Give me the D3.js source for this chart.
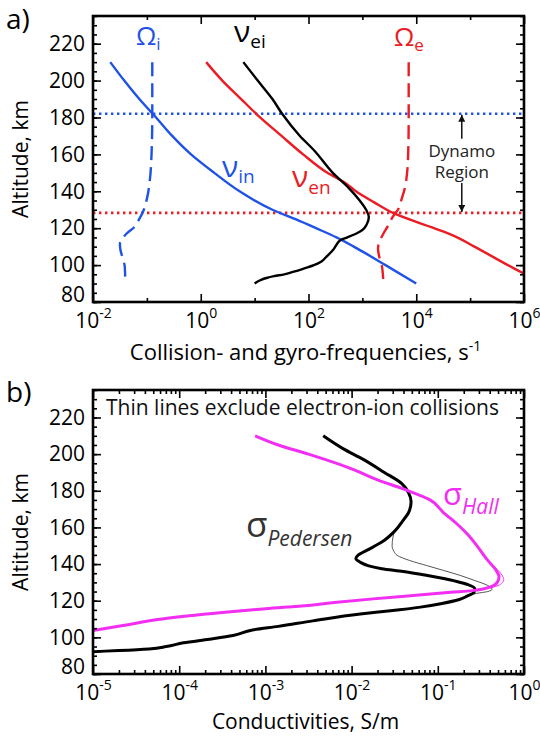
<!DOCTYPE html>
<html>
<head>
<meta charset="utf-8">
<script src="https://cdn.jsdelivr.net/npm/d3@7"></script>
<style>
body { margin: 0; background: #fff; }
text { font-family: 'Open Sans', sans-serif; }
</style>
</head>
<body>
<div id="chart"></div>
<script>
// PANEL A DATA (altitude km, frequency s^-1)
var altVin = [210, 200, 190, 180, 170, 160, 150, 140, 130, 125, 120, 115, 110, 100, 90];
var vin = [0.0209, 0.038, 0.0724, 0.148, 0.295, 0.66, 1.78, 5.25, 21.4, 56, 138, 331, 692, 2690, 10000];

var altVen = [210, 200, 190, 182, 170, 160, 150, 144, 140, 134, 128, 120, 116, 110, 100, 95, 90];
var ven = [1.26, 2.51, 5.62, 10.7, 31.6, 79.4, 224, 513, 759, 1660, 3890, 21400, 49000, 120000, 501000, 1050000, 2140000];

var altVei = [210, 200, 190, 182, 170, 162, 150, 142, 135, 130, 126, 122, 119, 117, 115, 113.5, 111, 108, 104.5, 102, 100, 98, 96.3, 95, 94, 93, 92, 91, 90];
var vei = [6.17, 11.4, 21.4, 32.4, 69.2, 129, 282, 550, 891, 1175, 1318, 1202, 1000, 759, 525, 389, 331, 282, 214, 174, 126, 79.4, 51.3, 35.5, 22.9, 16.6, 13.2, 11.2, 10.0];

var altOmi = [210, 180, 160, 146, 137, 129, 124, 120.7, 117, 114, 111.5, 108, 104, 99, 90];
var omi = [0.126, 0.126, 0.122, 0.1135, 0.102, 0.0851, 0.0692, 0.0589, 0.0417, 0.0347, 0.0316, 0.0324, 0.0355, 0.0389, 0.0398];

var altOme = [210, 180, 160, 150, 142, 135, 131, 126, 121, 117, 112, 109, 105, 100, 95, 90];
var ome = [7240, 7240, 7080, 6760, 6170, 5250, 4790, 3630, 2950, 2450, 2040, 1950, 2040, 2290, 2400, 2450];

// dynamo region limits, km (top = blue dotted, bottom = red dotted)
var dynamoLimits = [182, 128.3];

// PANEL B DATA (altitude km, conductivity S/m)
var altHall = [210, 205, 200, 192, 186, 181, 175, 168, 162, 156, 149, 142, 137, 133, 130, 127.5, 125.5, 124.6, 123, 121, 119, 117.4, 115.6, 113.5, 110, 106.5, 103.7, 102];
var hall = [7.59e-4, 1.41e-3, 3.16e-3, 0.0100, 0.0200, 0.0398, 0.0813, 0.117, 0.166, 0.224, 0.295, 0.380, 0.468, 0.513, 0.490, 0.407, 0.251, 0.141, 0.0562, 0.0178, 6.31e-3, 3.16e-3, 1e-3, 3.16e-4, 6.31e-5, 2.24e-5, 1e-5, 6.3e-6];

var altPed = [210, 203, 197, 190, 184, 179, 174, 168, 164, 158, 152, 148, 145, 143, 141, 139, 137.5, 136, 134, 132.5, 130.5, 128.8, 126.5, 124.5, 122.5, 120.5, 118.5, 116.5, 114.5, 112.8, 109, 106, 104, 101, 99, 97, 95, 93.7, 92.8, 92.2, 91.5];
var ped = [4.68e-3, 7.94e-3, 0.0138, 0.0240, 0.0380, 0.0457, 0.0490, 0.0457, 0.0398, 0.0316, 0.0224, 0.0158, 0.0120, 0.0112, 0.0126, 0.0158, 0.0224, 0.0398, 0.0708, 0.105, 0.166, 0.224, 0.269, 0.263, 0.219, 0.174, 0.112, 0.063, 0.0282, 0.0126, 3.55e-3, 1.41e-3, 7.08e-4, 4.2e-4, 2.24e-4, 1.12e-4, 7.08e-5, 4.47e-5, 2e-5, 1e-5, 5e-6];

// thin lines: no electron-ion collisions
var altPedThin = [166, 162, 158, 154.7, 150, 147, 144.7, 142, 139.2, 136.5, 133.8, 131, 128.3, 126.3, 125, 124, 122.5];
var pedThin = [0.0427, 0.0363, 0.0316, 0.0302, 0.0295, 0.0309, 0.0339, 0.0468, 0.0741, 0.117, 0.182, 0.269, 0.380, 0.427, 0.380, 0.282, 0.219];

var altHallThin = [141, 137, 134, 131.5, 129.5, 127.8, 126.5];
var hallThin = [0.398, 0.490, 0.556, 0.582, 0.550, 0.468, 0.32];

// TICKS
var yMajor = [80, 100, 120, 140, 160, 180, 200, 220];
var yMinor = d3.range(80, 236, 5);
var xMajorA = [1e-2, 1, 1e2, 1e4, 1e6];
var xMinorA = [1e-1, 10, 1e3, 1e5];
var xMajorB = [1e-5, 1e-4, 1e-3, 1e-2, 1e-1, 1];
var xMinorB = [];
[1e-5, 1e-4, 1e-3, 1e-2, 1e-1].forEach(function(p) {
	[2, 3, 4, 5, 6, 7, 8, 9].forEach(function(m) { xMinorB.push(p * m); });
});

var BLUE = '#1f52e6', RED = '#ea1c24', MAGENTA = '#f22ef2';

// BOUNDS
var left = 93, w = 431;
var topA = 16, hA = 286;
var topB = 390, hB = 284;

var svg = d3.select('#chart')
	.append('svg')
	.attr('width', 540)
	.attr('height', 736);

// SCALES
var xA = d3.scaleLog().domain([1e-2, 1e6]).range([0, w]);
var yA = d3.scaleLinear().domain([80, 235]).range([hA, 0]);
var xB = d3.scaleLog().domain([1e-5, 1]).range([0, w]);
var yB = d3.scaleLinear().domain([80, 235]).range([hB, 0]);

var gA = svg.append('g').attr('transform', 'translate(' + left + ',' + topA + ')');
var gB = svg.append('g').attr('transform', 'translate(' + left + ',' + topB + ')');

// ticks on all four sides, pointing in
function drawAxes(g, x, y, h, xMajor, xMinor) {
	var parts = [
		[d3.axisLeft(y), yMinor, 4, 0, 0],
		[d3.axisRight(y), yMinor, 4, w, 0],
		[d3.axisTop(x), xMinor, 4, 0, 0],
		[d3.axisBottom(x), xMinor, 4, 0, h],
		[d3.axisRight(y), yMajor, 8, w, 0],
		[d3.axisTop(x), xMajor, 8, 0, 0]
	];
	parts.forEach(function(p) {
		g.append('g')
			.attr('transform', 'translate(' + p[3] + ',' + p[4] + ')')
			.call(p[0].tickValues(p[1]).tickSize(-p[2]).tickFormat(''));
	});

	// left axis with labels
	var yAxisG = g.append('g')
		.call(d3.axisLeft(y).tickValues(yMajor).tickSize(-8).tickPadding(8));
	yAxisG.selectAll('text')
		.attr('font-size', 21)
		.attr('font-family', 'Open Sans')
		.attr('fill', '#000');
	// 80 label sits a bit above the corner
	yAxisG.selectAll('.tick').filter(function(d) { return d === 80; })
		.select('text').attr('y', -7);

	// bottom axis, 10^n labels
	var xAxisG = g.append('g')
		.attr('transform', 'translate(0,' + h + ')')
		.call(d3.axisBottom(x).tickValues(xMajor).tickSize(-8).tickFormat(''));
	xAxisG.selectAll('.tick').append('text')
		.attr('y', 26)
		.attr('text-anchor', 'middle')
		.attr('fill', '#000')
		.attr('font-size', 21)
		.attr('font-family', 'Open Sans')
		.each(function(d) {
			var t = d3.select(this);
			t.append('tspan').text('10');
			t.append('tspan')
				.attr('dy', -10)
				.attr('font-size', 14)
				.text(Math.round(Math.log10(d)));
		});

	g.selectAll('.domain').remove();
	g.selectAll('.tick line').attr('stroke', '#000').attr('stroke-width', 1.6);

	// frame
	g.append('rect')
		.attr('width', w)
		.attr('height', h)
		.attr('fill', 'none')
		.attr('stroke', '#000')
		.attr('stroke-width', 2.6);
}

// clip paths
gA.append('clipPath').attr('id', 'clipA')
	.append('rect').attr('width', w).attr('height', hA);
gB.append('clipPath').attr('id', 'clipB')
	.append('rect').attr('width', w).attr('height', hB);

// line makers
function lineOf(x, y) {
	return d3.line()
		.x(function(d) { return x(d[1]); })
		.y(function(d) { return y(d[0]); })
		.curve(d3.curveMonotoneY);
}
var lineA = lineOf(xA, yA);
var lineB = lineOf(xB, yB);

// PANEL A LINES
var plotA = gA.append('g').attr('clip-path', 'url(#clipA)');

// dynamo boundaries
plotA.selectAll('.dyn')
	.data(dynamoLimits)
	.enter().append('line')
	.attr('x1', 0).attr('x2', w)
	.attr('y1', function(d) { return yA(d); })
	.attr('y2', function(d) { return yA(d); })
	.attr('stroke', function(d, i) { return i === 0 ? BLUE : RED; })
	.attr('stroke-width', 2.6)
	.attr('stroke-dasharray', '2.4,3.6');

var seriesA = [
	{alt: altOmi, val: omi, color: BLUE, dash: '14,7'},
	{alt: altOme, val: ome, color: RED, dash: '14,7'},
	{alt: altVin, val: vin, color: BLUE, dash: null},
	{alt: altVen, val: ven, color: RED, dash: null},
	{alt: altVei, val: vei, color: '#000', dash: null}
];
seriesA.forEach(function(s) {
	plotA.append('path')
		.attr('d', lineA(d3.zip(s.alt, s.val)))
		.attr('fill', 'none')
		.attr('stroke', s.color)
		.attr('stroke-width', 2.4)
		.attr('stroke-dasharray', s.dash);
});

drawAxes(gA, xA, yA, hA, xMajorA, xMinorA);

// dynamo region arrows
svg.append('defs').append('marker')
	.attr('id', 'arrow')
	.attr('viewBox', '0 0 10 10')
	.attr('refX', 10).attr('refY', 5)
	.attr('markerWidth', 7).attr('markerHeight', 7)
	.attr('markerUnits', 'userSpaceOnUse')
	.attr('orient', 'auto')
	.append('path')
	.attr('d', 'M0,0L10,5L0,10Z')
	.attr('fill', '#111');

var arrowX = xA(7e4);
gA.append('line')
	.attr('x1', arrowX).attr('x2', arrowX)
	.attr('y1', yA(168.5)).attr('y2', yA(dynamoLimits[0]) + 1)
	.attr('stroke', '#111').attr('stroke-width', 1.5)
	.attr('marker-end', 'url(#arrow)');
gA.append('line')
	.attr('x1', arrowX).attr('x2', arrowX)
	.attr('y1', yA(144.5)).attr('y2', yA(dynamoLimits[1]) - 1)
	.attr('stroke', '#111').attr('stroke-width', 1.5)
	.attr('marker-end', 'url(#arrow)');
gA.append('text')
	.attr('x', arrowX).attr('y', yA(158.5))
	.attr('text-anchor', 'middle')
	.attr('font-size', 17).attr('fill', '#222')
	.text('Dynamo');
gA.append('text')
	.attr('x', arrowX).attr('y', yA(147))
	.attr('text-anchor', 'middle')
	.attr('font-size', 17).attr('fill', '#222')
	.text('Region');

// PANEL B LINES
var plotB = gB.append('g').attr('clip-path', 'url(#clipB)');
var seriesB = [
	{alt: altPedThin, val: pedThin, color: '#555', width: 1},
	{alt: altHallThin, val: hallThin, color: MAGENTA, width: 1},
	{alt: altPed, val: ped, color: '#000', width: 3},
	{alt: altHall, val: hall, color: MAGENTA, width: 3}
];
seriesB.forEach(function(s) {
	plotB.append('path')
		.attr('d', lineB(d3.zip(s.alt, s.val)))
		.attr('fill', 'none')
		.attr('stroke', s.color)
		.attr('stroke-width', s.width)
		.attr('stroke-linejoin', 'round');
});

drawAxes(gB, xB, yB, hB, xMajorB, xMinorB);

// LABELS
// symbol with subscript
function symbol(x, y, big, sub, color, bigSize, subSize, subDy, italicSub) {
	var t = svg.append('text')
		.attr('x', x).attr('y', y)
		.attr('fill', color)
		.attr('font-size', bigSize);
	t.append('tspan').text(big);
	t.append('tspan')
		.attr('dy', subDy)
		.attr('font-size', subSize)
		.attr('font-style', italicSub ? 'italic' : null)
		.text(sub);
}
symbol(136, 45, '\u03A9', 'i', BLUE, 26, 17, 5, false);
symbol(234, 42, '\u03BD', 'ei', '#000', 30, 19, 6, false);
symbol(394, 46, '\u03A9', 'e', RED, 26, 17, 5, false);
symbol(222, 177, '\u03BD', 'in', BLUE, 30, 19, 6, false);
symbol(292, 187, '\u03BD', 'en', RED, 30, 19, 7, false);
symbol(246, 537, '\u03C3', 'Pedersen', '#333', 35, 21, 9, true);
symbol(443, 505, '\u03C3', 'Hall', MAGENTA, 31, 21, 9, true);

svg.append('text')
	.attr('x', 106).attr('y', 415)
	.attr('font-size', 21).attr('fill', '#111')
	.text('Thin lines exclude electron-ion collisions');

// panel letters
svg.append('text').attr('x', 6).attr('y', 29).attr('font-size', 28).text('a)');
svg.append('text').attr('x', 6).attr('y', 402).attr('font-size', 28).text('b)');

// axis titles
[topA + hA / 2, topB + hB / 2].forEach(function(cy) {
	svg.append('text')
		.attr('transform', 'translate(28,' + cy + ') rotate(-90)')
		.attr('text-anchor', 'middle')
		.attr('font-size', 21)
		.text('Altitude, km');
});

var xtA = svg.append('text')
	.attr('x', left + w / 2 - 3).attr('y', 360)
	.attr('text-anchor', 'middle')
	.attr('font-size', 22);
xtA.append('tspan').text('Collision- and gyro-frequencies, s');
xtA.append('tspan').attr('dy', -9).attr('font-size', 14).text('-1');

svg.append('text')
	.attr('x', left + w / 2 - 3).attr('y', 729)
	.attr('text-anchor', 'middle')
	.attr('font-size', 21)
	.text('Conductivities, S/m');
</script>
</body>
</html>
